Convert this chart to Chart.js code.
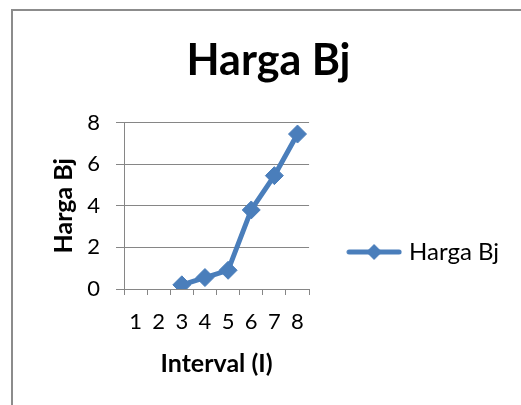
<!DOCTYPE html>
<html>
<head>
<meta charset="utf-8">
<script src="https://cdn.jsdelivr.net/npm/chart.js@4.4.1/dist/chart.umd.min.js"></script>
<style>
html,body{margin:0;padding:0;background:#ffffff;}
#wrap{position:relative;width:521px;height:405px;overflow:hidden;background:#fff;}
#frame{position:absolute;left:11px;top:9px;width:700px;height:600px;border-left:2px solid #8c8c8c;border-top:2px solid #8c8c8c;box-sizing:border-box;}
#c{position:absolute;left:0;top:0;}
</style>
</head>
<body>
<div id="wrap"><div id="frame"></div><canvas id="c" width="521" height="405"></canvas></div>
<script>
// ---- data ----
const categories = ['1', '2', '3', '4', '5', '6', '7', '8'];
const hargaBj = [null, null, 0.2, 0.55, 0.9, 3.8, 5.45, 7.45];
const yTickValues = [0, 2, 4, 6, 8];
const chartTitle = 'Harga Bj';
const seriesName = 'Harga Bj';
const xTitle = 'Interval (I)';
const yTitle = 'Harga Bj';

// ---- styles ----
const BLUE = '#4a7ebb';
const AXIS = '#868686';
const FONT = 'Lato, "Open Sans", sans-serif';

// legend symbol: line with a diamond
const sym = document.createElement('canvas');
sym.width = 56; sym.height = 20;
(function () {
  const g = sym.getContext('2d');
  g.strokeStyle = BLUE; g.lineWidth = 5; g.lineCap = 'round';
  g.beginPath(); g.moveTo(3, 10); g.lineTo(53, 10); g.stroke();
  g.fillStyle = BLUE;
  g.beginPath(); g.moveTo(28, 2); g.lineTo(36, 10); g.lineTo(28, 18); g.lineTo(20, 10); g.closePath(); g.fill();
})();

new Chart(document.getElementById('c'), {
  type: 'line',
  data: {
    labels: categories,
    datasets: [{
      label: seriesName,
      data: hargaBj,
      borderColor: BLUE,
      backgroundColor: BLUE,
      borderWidth: 5,
      pointStyle: 'rectRot',
      pointRadius: 9,
      pointHoverRadius: 9,
      pointBorderWidth: 1,
      pointBackgroundColor: BLUE,
      pointBorderColor: BLUE,
      tension: 0,
      fill: false
    }]
  },
  options: {
    responsive: false,
    animation: false,
    devicePixelRatio: 1,
    layout: { padding: { left: 28, right: 12, top: 10, bottom: 0 } },
    plugins: {
      tooltip: { enabled: false },
      title: {
        display: true,
        text: chartTitle,
        color: '#000',
        font: { family: FONT, size: 43, weight: 'bold', lineHeight: 1.2 },
        padding: { top: 25, bottom: 36 }
      },
      legend: {
        position: 'right',
        maxWidth: 213,
        title: { display: true, text: ' ', font: { size: 10, lineHeight: 1.2 }, padding: { top: 77, bottom: 0 } },
        labels: {
          color: '#000',
          font: { family: FONT, size: 24 },
          usePointStyle: true,
          pointStyleWidth: 46,
          padding: 42,
          generateLabels: function (chart) {
            const items = Chart.defaults.plugins.legend.labels.generateLabels(chart);
            items.forEach(it => { it.pointStyle = sym; });
            return items;
          }
        }
      }
    },
    scales: {
      x: {
        type: 'category',
        offset: true,
        grid: { offset: true, drawOnChartArea: false, drawTicks: true, tickLength: 6, color: AXIS, lineWidth: 1 },
        border: { display: true, color: AXIS, width: 1 },
        ticks: { color: '#000', font: { family: FONT, size: 22 }, padding: 14, maxRotation: 0, autoSkip: false },
        title: { display: true, text: xTitle, color: '#000', font: { family: FONT, size: 25, weight: 'bold', lineHeight: 1.2 }, padding: { top: 0, bottom: 26 } },
        afterFit: function (s) { s.height = 116; }
      },
      y: {
        min: 0,
        max: 8,
        grid: { color: AXIS, lineWidth: 1, tickLength: 8, drawTicks: true },
        border: { display: true, color: AXIS, width: 1 },
        ticks: { color: '#000', font: { family: FONT, size: 22 }, padding: 16, stepSize: 2 },
        afterBuildTicks: function (s) { s.ticks = yTickValues.map(v => ({ value: v })); },
        title: { display: true, text: yTitle, color: '#000', font: { family: FONT, size: 25, weight: 'bold', lineHeight: 1.2 }, padding: { top: 21, bottom: 0 } },
        afterFit: function (s) { s.width = 96; }
      }
    }
  }
});
</script>
</body>
</html>
